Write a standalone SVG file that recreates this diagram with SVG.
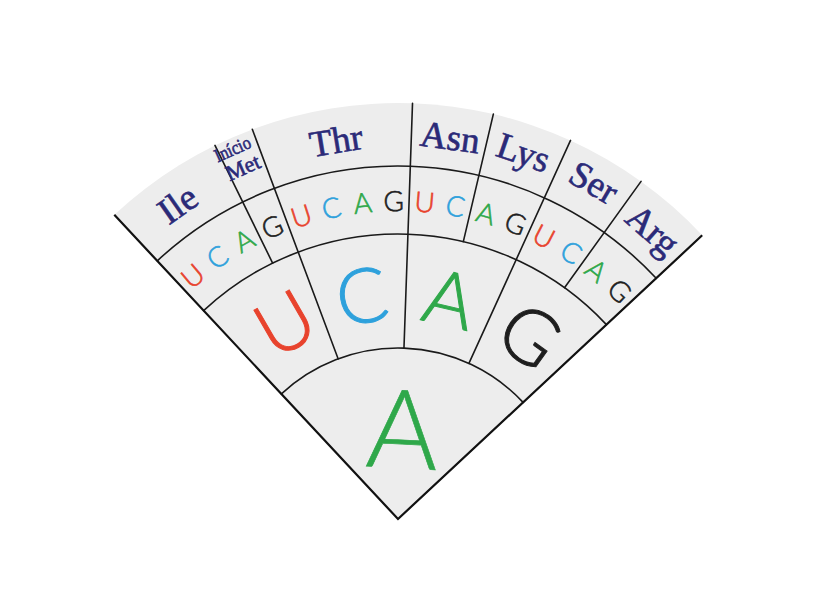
<svg xmlns="http://www.w3.org/2000/svg" width="824" height="600" viewBox="0 0 824 600">
<style>
.ln{fill:none;stroke:#1a1a1a;stroke-width:1.6;stroke-linecap:round}
.edge{fill:none;stroke:#111;stroke-width:2.2}
.b{font-family:Lato,"Liberation Sans",sans-serif;font-weight:300;text-anchor:middle;stroke-width:0.6}
.aa{font-family:"Liberation Serif",serif;fill:#2b2a78;stroke:#2b2a78;stroke-width:0.6;text-anchor:middle}
.U{fill:#e8432d;stroke:#e8432d}.C{fill:#2ea1dc;stroke:#2ea1dc}.A{fill:#2fa84a;stroke:#2fa84a}.G{fill:#1e1e1e;stroke:#1e1e1e}
.s{font-size:28px}.m{font-size:76px;stroke-width:1}
</style>
<rect width="824" height="600" fill="#fff"/>
<g id="sector">
<path d="M398 519 L114.3 214.8 A416 416 0 0 1 702.2 235.3 Z" fill="#ededed"/>
</g>
<g id="connectors">
<path class="ln" d="M281.4 393.9 A171 171 0 0 1 523.1 402.4"/>
<path class="ln" d="M203.6 310.6 A285 285 0 0 1 606.4 324.6"/>
<path class="ln" d="M157.3 260.8 A353 353 0 0 1 656.2 278.3"/>
<g transform="translate(398 519)">
<line class="ln" x1="0" y1="-171" x2="0" y2="-416" transform="rotate(-20.5)"/>
<line class="ln" x1="0" y1="-171" x2="0" y2="-416" transform="rotate(2)"/>
<line class="ln" x1="0" y1="-171" x2="0" y2="-416" transform="rotate(24.5)"/>
<line class="ln" x1="0" y1="-285" x2="0" y2="-416" transform="rotate(-26.1)"/>
<line class="ln" x1="0" y1="-285" x2="0" y2="-416" transform="rotate(13.25)"/>
<line class="ln" x1="0" y1="-285" x2="0" y2="-416" transform="rotate(35.75)"/>
</g>
<path class="edge" d="M114.3 214.8 L398 519 L702.2 235.3"/>
</g>
<g id="center-A" transform="translate(398 519)">
<text class="b A" font-size="110" stroke-width="1.4" transform="rotate(3) translate(0 -91)" y="40">A</text>
</g>
<g id="second-base" transform="translate(398 519)">
<text class="b m U" transform="rotate(-30) translate(0 -226)" y="27">U</text>
<text class="b m C" transform="rotate(-9.25) translate(0 -226)" y="27">C</text>
<text class="b m A" transform="rotate(13.25) translate(0 -226)" y="27">A</text>
<text class="b m G" transform="rotate(35.75) translate(0 -226)" y="27">G</text>
</g>
<g id="third-base" transform="translate(398 519)">
<text class="b s U" transform="rotate(-40.2) translate(0 -318)" y="10">U</text>
<text class="b s C" transform="rotate(-34.6) translate(0 -318)" y="10">C</text>
<text class="b s A" transform="rotate(-28.9) translate(0 -318)" y="10">A</text>
<text class="b s G" transform="rotate(-23.3) translate(0 -318)" y="10">G</text>
<text class="b s U" transform="rotate(-17.7) translate(0 -318)" y="10">U</text>
<text class="b s C" transform="rotate(-12.1) translate(0 -318)" y="10">C</text>
<text class="b s A" transform="rotate(-6.4) translate(0 -318)" y="10">A</text>
<text class="b s G" transform="rotate(-0.8) translate(0 -318)" y="10">G</text>
<text class="b s U" transform="rotate(4.8) translate(0 -318)" y="10">U</text>
<text class="b s C" transform="rotate(10.4) translate(0 -318)" y="10">C</text>
<text class="b s A" transform="rotate(16.1) translate(0 -318)" y="10">A</text>
<text class="b s G" transform="rotate(21.7) translate(0 -318)" y="10">G</text>
<text class="b s U" transform="rotate(27.3) translate(0 -318)" y="10">U</text>
<text class="b s C" transform="rotate(33) translate(0 -318)" y="10">C</text>
<text class="b s A" transform="rotate(38.6) translate(0 -318)" y="10">A</text>
<text class="b s G" transform="rotate(44.2) translate(0 -318)" y="10">G</text>
</g>
<g id="amino-acids" transform="translate(398 519)">
<text class="aa" font-size="37" transform="rotate(-35) translate(0 -384)" y="12">Ile</text>
<text class="aa" font-size="19" stroke-width="0.4" textLength="38" lengthAdjust="spacingAndGlyphs" transform="rotate(-24.1) translate(0 -405)" y="6">Início</text>
<text class="aa" font-size="22" stroke-width="0.4" transform="rotate(-23.8) translate(0 -384)" y="7">Met</text>
<text class="aa" font-size="37" transform="rotate(-9.3) translate(0 -383)" y="12">Thr</text>
<text class="aa" font-size="37" transform="rotate(7.8) translate(0 -385)" y="12">Asn</text>
<text class="aa" font-size="37" transform="rotate(18.9) translate(0 -387)" y="12">Lys</text>
<text class="aa" font-size="37" transform="rotate(30.2) translate(0 -389)" y="12">Ser</text>
<text class="aa" font-size="37" transform="rotate(41.4) translate(0 -385)" y="12">Arg</text>
</g>
</svg>
